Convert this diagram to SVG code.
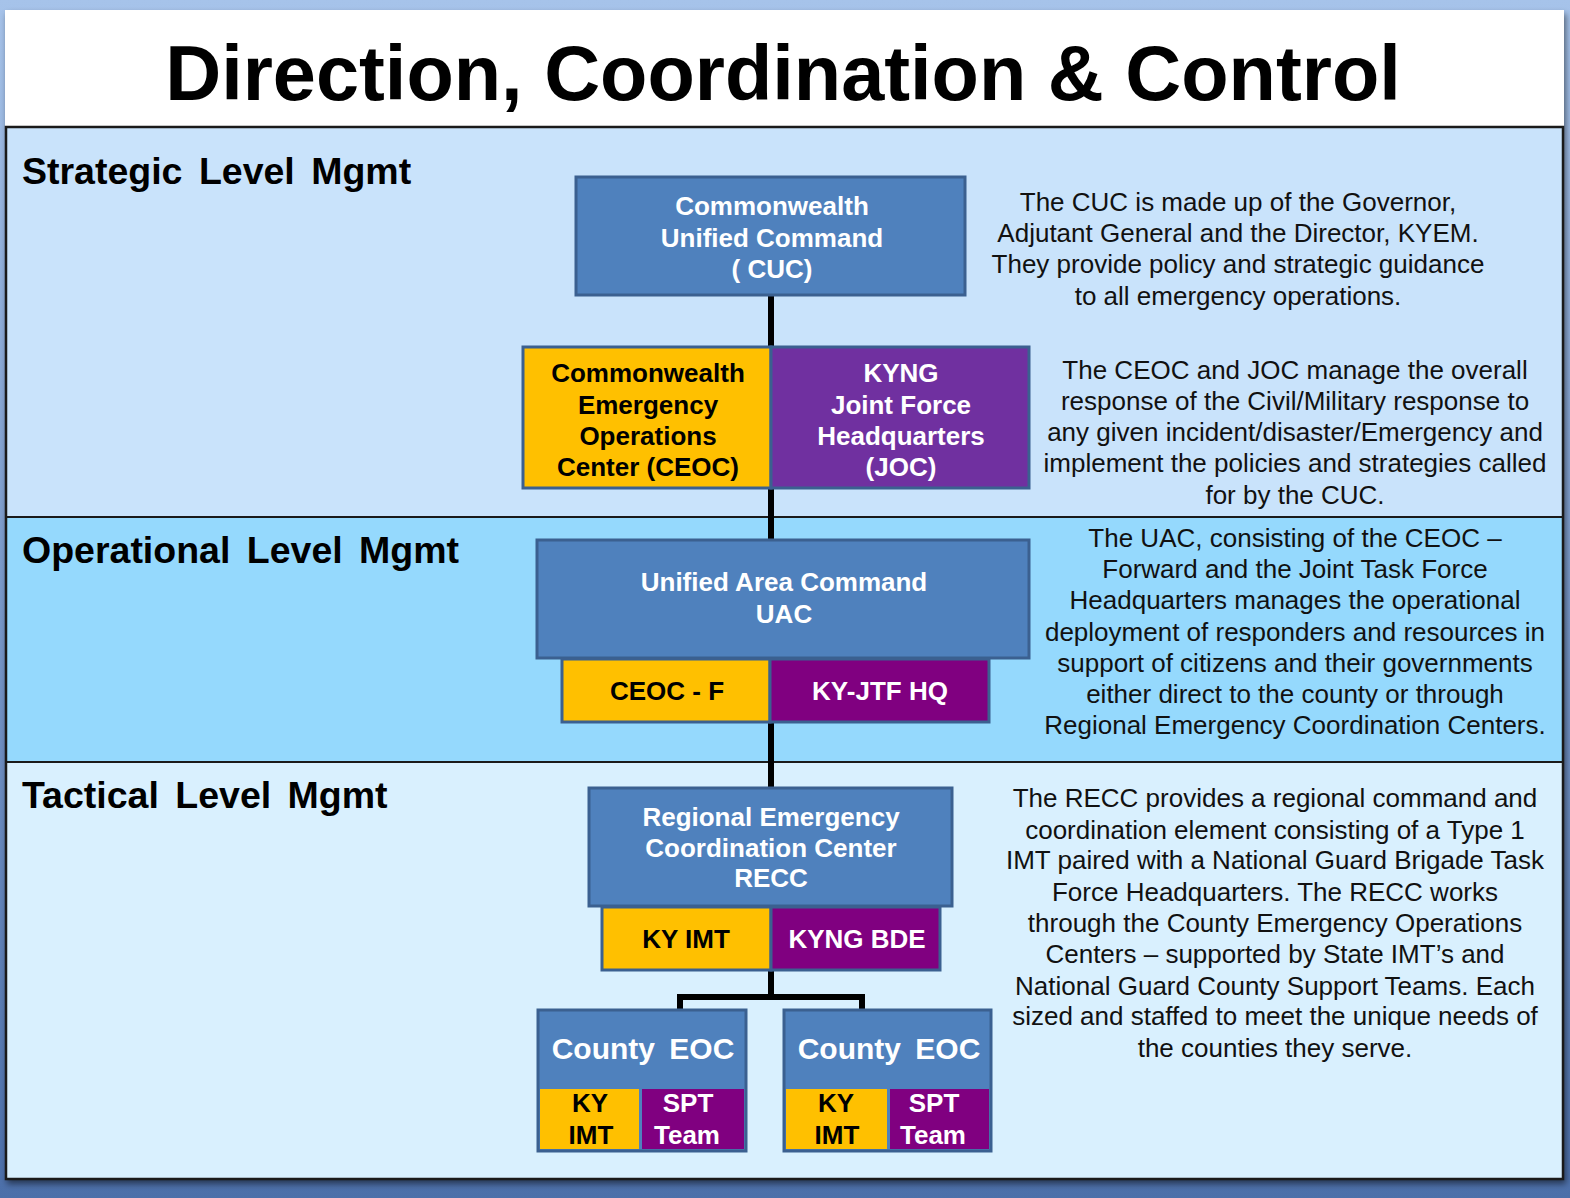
<svg xmlns="http://www.w3.org/2000/svg" width="1570" height="1198" viewBox="0 0 1570 1198">
<defs>
<linearGradient id="bg" x1="0" y1="0" x2="0" y2="1">
<stop offset="0" stop-color="#a6c3ea"/>
<stop offset="1" stop-color="#4c6fa9"/>
</linearGradient>
<filter id="sh" x="-5%" y="-5%" width="110%" height="110%">
<feGaussianBlur in="SourceAlpha" stdDeviation="3"/>
<feOffset dx="2" dy="4"/>
<feComponentTransfer><feFuncA type="linear" slope="0.5"/></feComponentTransfer>
<feMerge><feMergeNode/><feMergeNode in="SourceGraphic"/></feMerge>
</filter>
</defs>
<style>
.title{font-family:"Liberation Sans",Arial,sans-serif;font-weight:bold;font-size:77.5px;fill:#000;text-anchor:middle}
.band{font-family:"Liberation Sans",Arial,sans-serif;font-weight:bold;font-size:37.5px;fill:#000;word-spacing:6px}
.desc{font-family:"Liberation Sans",Arial,sans-serif;font-size:26px;fill:#111;text-anchor:middle}
.nt{font-family:"Liberation Sans",Arial,sans-serif;font-weight:bold;font-size:26px;text-anchor:middle}
.w{fill:#fff}
.k{fill:#000}
.blue{fill:#4f81bd;stroke:#3b6090;stroke-width:3}
.yel{fill:#ffc000;stroke:#3b6090;stroke-width:3}
.pur{fill:#7030a0;stroke:#3b6090;stroke-width:3}
.pur2{fill:#800080;stroke:#3b6090;stroke-width:3}
.cty{font-family:"Liberation Sans",Arial,sans-serif;font-weight:bold;font-size:30px;fill:#fff;text-anchor:middle;word-spacing:6px}
.sm{font-family:"Liberation Sans",Arial,sans-serif;font-weight:bold;font-size:26px;text-anchor:middle}
.conn{stroke:#000;stroke-width:6;fill:none}
.div{stroke:#1a1a1a;stroke-width:2}
</style>
<rect x="0" y="0" width="1570" height="1198" fill="url(#bg)"/>
<g id="slide" filter="url(#sh)">
<rect x="5" y="10" width="1559" height="1170" fill="#ffffff"/>
</g>
<g id="bands">
<rect x="6" y="127" width="1557" height="390" fill="#c9e3fb"/>
<rect x="6" y="517" width="1557" height="245" fill="#95d9fd"/>
<rect x="6" y="762" width="1557" height="417" fill="#d9f0fe"/>
<line class="div" x1="6" y1="517" x2="1563" y2="517"/>
<line class="div" x1="6" y1="762" x2="1563" y2="762"/>
<rect x="6" y="127" width="1557" height="1052" fill="none" stroke="#1a1a1a" stroke-width="2.5"/>
</g>
<text class="title" x="783" y="100">Direction, Coordination &amp; Control</text>
<text class="band" x="22" y="184">Strategic Level Mgmt</text>
<text class="band" x="22" y="563">Operational Level Mgmt</text>
<text class="band" x="22" y="808">Tactical Level Mgmt</text>

<g id="connectors">
<line class="conn" x1="771" y1="295" x2="771" y2="347"/>
<line class="conn" x1="771" y1="488" x2="771" y2="540"/>
<line class="conn" x1="771" y1="722" x2="771" y2="788"/>
<line class="conn" x1="771" y1="970" x2="771" y2="997"/>
<polyline class="conn" points="680,1010 680,997 862,997 862,1010"/>
</g>

<g id="cuc">
<rect class="blue" x="576" y="177" width="389" height="118"/>
<text class="nt w" x="772" y="215">Commonwealth</text>
<text class="nt w" x="772" y="247">Unified Command</text>
<text class="nt w" x="772" y="278">( CUC)</text>
</g>
<g id="ceoc">
<rect class="yel" x="523" y="347" width="248" height="141"/>
<text class="nt k" x="648" y="382">Commonwealth</text>
<text class="nt k" x="648" y="414">Emergency</text>
<text class="nt k" x="648" y="445">Operations</text>
<text class="nt k" x="648" y="476">Center (CEOC)</text>
</g>
<g id="joc">
<rect class="pur" x="771" y="347" width="258" height="141"/>
<text class="nt w" x="901" y="382">KYNG</text>
<text class="nt w" x="901" y="414">Joint Force</text>
<text class="nt w" x="901" y="445">Headquarters</text>
<text class="nt w" x="901" y="476">(JOC)</text>
</g>
<g id="uac">
<rect class="blue" x="537" y="540" width="492" height="118"/>
<text class="nt w" x="784" y="591">Unified Area Command</text>
<text class="nt w" x="784" y="623">UAC</text>
</g>
<g id="ceoc-f">
<rect class="yel" x="562" y="659" width="208" height="63"/>
<text class="nt k" x="667" y="700">CEOC - F</text>
</g>
<g id="ky-jtf">
<rect class="pur2" x="770" y="659" width="219" height="63"/>
<text class="nt w" x="880" y="700">KY-JTF HQ</text>
</g>
<g id="recc">
<rect class="blue" x="589" y="788" width="363" height="118"/>
<text class="nt w" x="771" y="826">Regional Emergency</text>
<text class="nt w" x="771" y="857">Coordination Center</text>
<text class="nt w" x="771" y="887">RECC</text>
</g>
<g id="ky-imt">
<rect class="yel" x="602" y="907" width="169" height="63"/>
<text class="nt k" x="686" y="948">KY IMT</text>
</g>
<g id="kyng-bde">
<rect class="pur2" x="771" y="907" width="169" height="63"/>
<text class="nt w" x="857" y="948">KYNG BDE</text>
</g>
<g id="county1">
<rect class="blue" x="538" y="1010" width="208" height="141"/>
<rect x="540" y="1089" width="99" height="60" fill="#ffc000"/>
<rect x="642" y="1089" width="102" height="60" fill="#800080"/>
<text class="cty" x="643" y="1059">County EOC</text>
<text class="sm k" x="590" y="1112">KY</text>
<text class="sm k" x="591" y="1144">IMT</text>
<text class="sm w" x="688" y="1112">SPT</text>
<text class="sm w" x="687" y="1144">Team</text>
</g>
<g id="county2">
<rect class="blue" x="784" y="1010" width="207" height="141"/>
<rect x="786" y="1089" width="101" height="60" fill="#ffc000"/>
<rect x="890" y="1089" width="99" height="60" fill="#800080"/>
<text class="cty" x="889" y="1059">County EOC</text>
<text class="sm k" x="836" y="1112">KY</text>
<text class="sm k" x="837" y="1144">IMT</text>
<text class="sm w" x="934" y="1112">SPT</text>
<text class="sm w" x="933" y="1144">Team</text>
</g>

<g id="desc-cuc">
<text class="desc" x="1238" y="211">The CUC is made up of the Governor,</text>
<text class="desc" x="1238" y="242">Adjutant General and the Director, KYEM.</text>
<text class="desc" x="1238" y="273">They provide policy and strategic guidance</text>
<text class="desc" x="1238" y="305">to all emergency operations.</text>
</g>
<g id="desc-ceoc">
<text class="desc" x="1295" y="379">The CEOC and JOC manage the overall</text>
<text class="desc" x="1295" y="410">response of the Civil/Military response to</text>
<text class="desc" x="1295" y="441">any given incident/disaster/Emergency and</text>
<text class="desc" x="1295" y="472">implement the policies and strategies called</text>
<text class="desc" x="1295" y="504">for by the CUC.</text>
</g>
<g id="desc-uac">
<text class="desc" x="1295" y="547">The UAC, consisting of the CEOC –</text>
<text class="desc" x="1295" y="578">Forward and the Joint Task Force</text>
<text class="desc" x="1295" y="609">Headquarters manages the operational</text>
<text class="desc" x="1295" y="641">deployment of responders and resources in</text>
<text class="desc" x="1295" y="672">support of citizens and their governments</text>
<text class="desc" x="1295" y="703">either direct to the county or through</text>
<text class="desc" x="1295" y="734">Regional Emergency Coordination Centers.</text>
</g>
<g id="desc-recc">
<text class="desc" x="1275" y="807">The RECC provides a regional command and</text>
<text class="desc" x="1275" y="839">coordination element consisting of a Type 1</text>
<text class="desc" x="1275" y="869">IMT paired with a National Guard Brigade Task</text>
<text class="desc" x="1275" y="901">Force Headquarters.  The RECC works</text>
<text class="desc" x="1275" y="932">through the County Emergency Operations</text>
<text class="desc" x="1275" y="963">Centers – supported by State IMT’s and</text>
<text class="desc" x="1275" y="995">National Guard County Support Teams. Each</text>
<text class="desc" x="1275" y="1025">sized and staffed to meet the unique needs of</text>
<text class="desc" x="1275" y="1057">the counties they serve.</text>
</g>
</svg>
